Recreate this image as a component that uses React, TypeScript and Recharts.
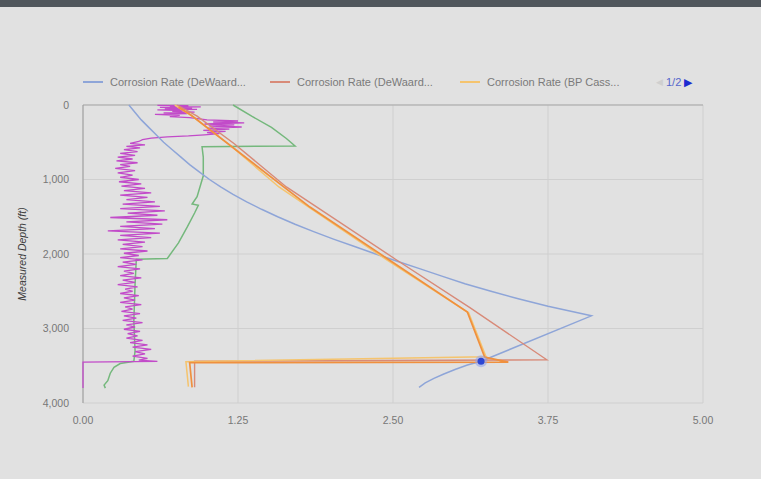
import { ScatterChart, Scatter, XAxis, YAxis, CartesianGrid, ReferenceLine } from 'recharts';

// corrosion rate (x) vs measured depth in ft (y)
const xTicks = [0, 1.25, 2.5, 3.75, 5];
const yTicks = [0, 1000, 2000, 3000, 4000];

const deWaardA: [number, number][] = [
  [0.37, 0], [0.42, 100], [0.47, 200], [0.53, 300], [0.59, 400], [0.65, 500], [0.72, 600],
  [0.79, 700], [0.86, 800], [0.94, 900], [1.02, 1000], [1.11, 1100], [1.21, 1200], [1.32, 1300],
  [1.44, 1400], [1.57, 1500], [1.71, 1600], [1.86, 1700], [2.02, 1800], [2.19, 1900], [2.36, 2000],
  [2.54, 2100], [2.72, 2200], [2.9, 2300], [3.08, 2400], [3.29, 2500], [3.51, 2600], [3.75, 2700],
  [4.1, 2830], [3.21, 3440], [3.1, 3490], [3.0, 3550], [2.91, 3610], [2.83, 3670], [2.76, 3730],
  [2.71, 3790],
];

const deWaardB: [number, number][] = [
  [0.76, 0], [0.92, 150], [1.22, 520], [1.64, 1100], [2.52, 2070], [3.12, 2720], [3.74, 3420],
  [0.9, 3440], [0.9, 3790],
];

const bpCass: [number, number][] = [
  [0.74, 0], [0.88, 150], [1.2, 560], [1.58, 1100], [2.45, 2080], [3.11, 2790], [3.25, 3380],
  [0.83, 3445], [0.85, 3780],
];

const orangeSeries: [number, number][] = [
  [0.77, 30], [0.87, 134], [1.83, 1370], [2.47, 2080], [3.1, 2780], [3.24, 3385], [3.43, 3452],
  [0.86, 3458], [0.88, 3790],
];

const greenSeries: [number, number][] = [
  [1.21, 0], [1.36, 150], [1.52, 300], [1.64, 450], [1.71, 550], [0.96, 560], [0.97, 700],
  [0.97, 950], [0.92, 1230], [0.88, 1330], [0.93, 1345], [0.9, 1450], [0.84, 1640], [0.77, 1850],
  [0.68, 2060], [0.43, 2070], [0.42, 2400], [0.41, 2900], [0.42, 3300], [0.41, 3440], [0.3, 3470],
  [0.25, 3520], [0.22, 3600], [0.2, 3700], [0.17, 3760], [0.18, 3800],
];

const purpleSeries: [number, number][] = [
  [0.6, 5], [0.85, 10], [0.7, 18], [0.95, 25], [0.62, 32], [0.88, 40], [0.66, 50], [0.92, 58],
  [0.6, 66], [0.8, 75], [0.72, 85], [0.9, 95], [0.65, 105], [0.84, 115], [0.58, 125], [0.78, 140],
  [0.7, 155], [0.86, 170], [1.0, 200], [1.25, 215], [1.05, 228], [1.3, 240], [0.98, 255],
  [1.22, 268], [1.02, 282], [1.28, 295], [1.0, 310], [1.18, 325], [0.97, 340], [1.15, 355],
  [1.0, 370], [1.1, 385], [0.98, 400], [0.85, 415], [0.68, 428], [0.55, 445], [0.48, 465],
  [0.45, 490], [0.38, 515], [0.5, 535], [0.35, 555], [0.46, 575], [0.33, 600], [0.44, 625],
  [0.3, 650], [0.42, 675], [0.28, 700], [0.4, 725], [0.27, 750], [0.44, 775], [0.3, 800],
  [0.38, 825], [0.26, 850], [0.42, 880], [0.28, 910], [0.4, 940], [0.3, 970], [0.45, 1000],
  [0.29, 1030], [0.47, 1060], [0.31, 1090], [0.5, 1120], [0.33, 1150], [0.55, 1180], [0.3, 1210],
  [0.52, 1240], [0.35, 1270], [0.58, 1300], [0.32, 1330], [0.62, 1360], [0.3, 1390], [0.66, 1420],
  [0.36, 1450], [0.6, 1480], [0.22, 1510], [0.68, 1540], [0.35, 1570], [0.64, 1600], [0.3, 1630],
  [0.58, 1660], [0.2, 1690], [0.62, 1720], [0.3, 1750], [0.55, 1780], [0.28, 1810], [0.5, 1840],
  [0.32, 1870], [0.48, 1900], [0.3, 1930], [0.52, 1960], [0.33, 1990], [0.45, 2020], [0.3, 2050],
  [0.48, 2080], [0.32, 2110], [0.43, 2140], [0.28, 2170], [0.46, 2200], [0.33, 2230], [0.41, 2260],
  [0.3, 2290], [0.47, 2320], [0.32, 2350], [0.42, 2380], [0.28, 2410], [0.44, 2440], [0.34, 2470],
  [0.4, 2500], [0.3, 2530], [0.45, 2560], [0.33, 2590], [0.42, 2620], [0.3, 2650], [0.47, 2680],
  [0.34, 2710], [0.4, 2740], [0.31, 2770], [0.46, 2800], [0.33, 2830], [0.43, 2860], [0.32, 2890],
  [0.48, 2920], [0.35, 2950], [0.42, 2980], [0.33, 3010], [0.46, 3040], [0.36, 3070], [0.44, 3100],
  [0.35, 3130], [0.48, 3160], [0.38, 3190], [0.52, 3220], [0.4, 3250], [0.55, 3280], [0.42, 3310],
  [0.5, 3340], [0.4, 3370], [0.52, 3400], [0.45, 3425], [0.6, 3440], [0, 3450], [0, 3800],
];

const markerPoint: [number, number][] = [[3.21, 3440]];

const legendNames = ['Corrosion Rate (DeWaard...', 'Corrosion Rate (DeWaard...', 'Corrosion Rate (BP Cass...'];

const toPts = (arr: [number, number][]) => arr.map(([x, y]) => ({ x, y }));

const noShape = () => <g />;

const FONT = '"Liberation Sans", Arial, sans-serif';

const series = [
  { name: 'green', data: greenSeries, color: '#74b87c', width: 1.5 },
  { name: 'purple', data: purpleSeries, color: '#c24bc9', width: 1.3 },
  { name: 'blue', data: deWaardA, color: '#8ea5d8', width: 1.5 },
  { name: 'red', data: deWaardB, color: '#d88a78', width: 1.4 },
  { name: 'yellow', data: bpCass, color: '#f5c46e', width: 1.5 },
  { name: 'orange', data: orangeSeries, color: '#f0903e', width: 1.7 },
];

const legendColors = ['#8ea5d8', '#d88a78', '#f5c46e'];
const legendX = [83, 270, 460];

function Dot(props: any) {
  const { cx, cy } = props;
  return (
    <g>
      <circle cx={cx} cy={cy} r={6} fill="#8fa3ee" opacity={0.55} />
      <circle cx={cx} cy={cy} r={3.5} fill="#2c46d4" />
    </g>
  );
}

export default function App() {
  return (
    <div style={{ position: 'absolute', left: 0, top: 0, width: 761, height: 479, background: '#e1e1e1', fontFamily: FONT }}>
      <div style={{ position: 'absolute', left: 0, top: 0, width: 761, height: 7, background: '#50565c' }} />
      {legendNames.map((n, i) => (
        <div key={i} style={{ position: 'absolute', left: legendX[i], top: 75, height: 14, display: 'flex', alignItems: 'center', fontSize: 11, color: '#7a7a7a' }}>
          <div style={{ width: 20, height: 1.5, background: legendColors[i], marginRight: 7 }} />
          {n}
        </div>
      ))}
      <div style={{ position: 'absolute', left: 656, top: 75, height: 14, display: 'flex', alignItems: 'center', fontSize: 11, color: '#7a7a7a' }}>
        <span style={{ color: '#cfcfcf', fontSize: 9, marginRight: 3 }}>◀</span>
        <span style={{ color: '#5566cc' }}>1/2</span>
        <span style={{ color: '#1a2bd0', fontSize: 11, marginLeft: 3 }}>▶</span>
      </div>
      <div style={{ position: 'absolute', left: 0, top: 0 }}>
        <ScatterChart width={761} height={479} margin={{ top: 105, right: 58, bottom: 46, left: 23 }}>
          <CartesianGrid stroke="#cfcfcf" />
          <XAxis
            type="number"
            dataKey="x"
            domain={[0, 5]}
            ticks={xTicks}
            tickFormatter={(v: number) => v.toFixed(2)}
            axisLine={false}
            tickLine={false}
            tickMargin={8}
            height={30}
            tick={{ fill: '#777', fontSize: 10.5, fontFamily: FONT }}
          />
          <YAxis
            type="number"
            dataKey="y"
            reversed
            domain={[0, 4000]}
            ticks={yTicks}
            tickFormatter={(v: number) => v.toLocaleString('en-US')}
            axisLine={false}
            tickLine={false}
            tickMargin={8}
            width={60}
            tick={{ fill: '#777', fontSize: 10.5, fontFamily: FONT }}
            label={{ value: 'Measured Depth (ft)', angle: -90, position: 'insideLeft', offset: 0, dx: -1, style: { fill: '#3a3a3a', fontSize: 10.5, fontStyle: 'italic', fontFamily: FONT, textAnchor: 'middle' } }}
          />
          <ReferenceLine y={0} stroke="#a9a9a9" />
          <ReferenceLine x={0} stroke="#9a9a9a" />
          {series.map((s) => (
            <Scatter
              key={s.name}
              data={toPts(s.data)}
              line={{ stroke: s.color, strokeWidth: s.width }}
              lineType="joint"
              shape={noShape}
              isAnimationActive={false}
            />
          ))}
          <Scatter data={toPts(markerPoint)} shape={Dot} isAnimationActive={false} />
        </ScatterChart>
      </div>
    </div>
  );
}
